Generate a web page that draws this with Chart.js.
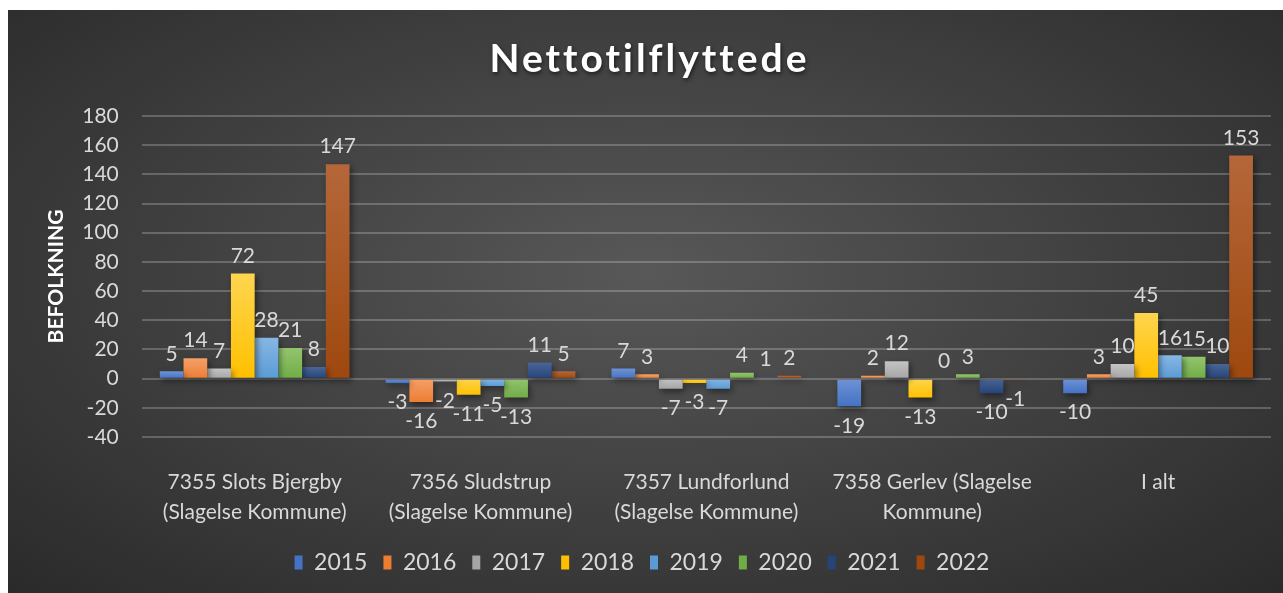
<!DOCTYPE html>
<html>
<head>
<meta charset="utf-8">
<script src="https://cdn.jsdelivr.net/npm/chart.js@4.4.1/dist/chart.umd.min.js"></script>
<style>
  html, body { margin: 0; padding: 0; background: #fff; }
  #wrap {
    position: absolute; left: 8px; top: 10px; width: 1275px; height: 583px;
    background: radial-gradient(ellipse at 50% 45%, #585858 0%, #454545 40%, #2a2a2a 100%);
  }
</style>
</head>
<body>
<div id="wrap"><canvas id="chart"></canvas></div>
<script>
// chart values
const categories = [
    ['7355 Slots Bjergby', '(Slagelse Kommune)'],
    ['7356 Sludstrup', '(Slagelse Kommune)'],
    ['7357 Lundforlund', '(Slagelse Kommune)'],
    ['7358 Gerlev (Slagelse', 'Kommune)'],
    'I alt'
];
const years = ['2015', '2016', '2017', '2018', '2019', '2020', '2021', '2022'];
const v2015 = [5, -3, 7, -19, -10];
const v2016 = [14, -16, 3, 2, 3];
const v2017 = [7, -2, -7, 12, 10];
const v2018 = [72, -11, -3, -13, 45];
const v2019 = [28, -5, -7, 0, 16];
const v2020 = [21, -13, 4, 3, 15];
const v2021 = [8, 11, 1, -10, 10];
const v2022 = [147, 5, 2, -1, 153];
const yTicks = { min: -40, max: 180, step: 20 };
const chartTitle = 'Nettotilflyttede';

const seriesValues = [v2015, v2016, v2017, v2018, v2019, v2020, v2021, v2022];
const colors = ['#4472C4', '#ED7D31', '#A5A5A5', '#FFC000', '#5B9BD5', '#70AD47', '#264478', '#9E480E'];
const lightColors = ['#6F93D6', '#F4A06A', '#C4C4C4', '#FFD54F', '#86B7E4', '#93C46E', '#4A6597', '#B5673A'];
const FONT = 'Lato, "Open Sans", sans-serif';
const TXT = '#d9d9d9';

// gradient per bar, light at the top end, darker towards zero
function barFill(i) {
    return (ctx) => {
        const chart = ctx.chart;
        if (!chart.chartArea || ctx.type !== 'data') return colors[i];
        const v = ctx.parsed ? ctx.parsed.y : 0;
        const yScale = chart.scales.y;
        const top = yScale.getPixelForValue(Math.max(v, 0));
        const bot = yScale.getPixelForValue(Math.min(v, 0));
        if (!isFinite(top) || !isFinite(bot) || top === bot) return colors[i];
        const g = chart.ctx.createLinearGradient(0, top, 0, bot);
        g.addColorStop(0, lightColors[i]);
        g.addColorStop(1, colors[i]);
        return g;
    };
}

const valueLabels = {
    id: 'valueLabels',
    afterDatasetsDraw(chart) {
        const ctx = chart.ctx;
        ctx.save();
        ctx.font = '21px ' + FONT;
        ctx.fillStyle = TXT;
        ctx.textAlign = 'center';
        chart.data.datasets.forEach((ds, i) => {
            const meta = chart.getDatasetMeta(i);
            meta.data.forEach((bar, j) => {
                const v = ds.data[j];
                if (v >= 0) {
                    ctx.textBaseline = 'bottom';
                    ctx.fillText(String(v), bar.x, bar.y - 7);
                } else {
                    ctx.textBaseline = 'top';
                    ctx.fillText(String(v), bar.x, bar.y + 9);
                }
            });
        });
        ctx.restore();
    }
};

const barShadow = {
    id: 'barShadow',
    beforeDatasetsDraw(chart) {
        const ctx = chart.ctx;
        ctx.save();
        ctx.shadowColor = 'rgba(0,0,0,0.45)';
        ctx.shadowBlur = 6;
        ctx.shadowOffsetX = 2;
        ctx.shadowOffsetY = 3;
    },
    afterDatasetsDraw(chart) {
        chart.ctx.restore();
    }
};

// title drawn with letter spacing, space kept free by layout padding
const spacedTitle = {
    id: 'spacedTitle',
    afterDraw(chart) {
        const ctx = chart.ctx;
        ctx.save();
        ctx.font = 'bold 39px ' + FONT;
        ctx.letterSpacing = '3px';
        ctx.fillStyle = '#ffffff';
        ctx.textAlign = 'center';
        ctx.textBaseline = 'alphabetic';
        ctx.shadowColor = 'rgba(0,0,0,0.6)';
        ctx.shadowBlur = 4;
        ctx.shadowOffsetX = 1;
        ctx.shadowOffsetY = 2;
        ctx.fillText(chartTitle, chart.width / 2 + 4, 62);
        ctx.restore();
    }
};

new Chart(document.getElementById('chart'), {
    type: 'bar',
    data: {
        labels: categories,
        datasets: years.map((y, i) => ({
            label: y,
            data: seriesValues[i],
            backgroundColor: barFill(i),
            borderWidth: 0,
            categoryPercentage: 0.84,
            barPercentage: 1.0
        }))
    },
    options: {
        responsive: true,
        maintainAspectRatio: false,
        animation: false,
        layout: { padding: { left: 5, right: 12, top: 106, bottom: 9 } },
        scales: {
            x: {
                grid: { display: false, tickLength: 30 },
                border: { display: false },
                ticks: { color: TXT, font: { size: 21, family: FONT, lineHeight: 1.45 }, maxRotation: 0, autoSkip: false, padding: 0 },
                afterFit(scale) { scale.height = 98; }
            },
            y: {
                min: yTicks.min,
                max: yTicks.max,
                border: { display: false },
                grid: { color: 'rgba(255,255,255,0.22)', lineWidth: 2, drawTicks: false },
                ticks: { stepSize: yTicks.step, autoSkip: false, color: TXT, font: { size: 21, family: FONT }, padding: 23 },
                title: { display: true, text: 'BEFOLKNING', color: '#ffffff', font: { size: 21, weight: 'bold', family: FONT }, padding: { top: 31, bottom: -10 } }
            }
        },
        plugins: {
            title: { display: false },
            legend: {
                position: 'bottom',
                labels: { color: TXT, font: { size: 23, family: FONT }, boxWidth: 8, boxHeight: 14, padding: 16 }
            },
            tooltip: { enabled: false }
        }
    },
    plugins: [barShadow, valueLabels, spacedTitle]
});
</script>
</body>
</html>
